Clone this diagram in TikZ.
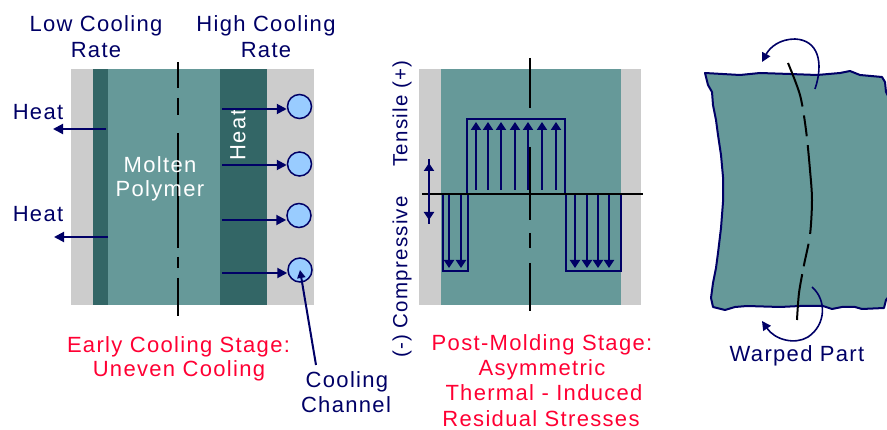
\documentclass[tikz,border=0pt]{standalone}
\usepackage{fontspec}
\setmainfont{Liberation Sans}[LetterSpace=6]
\usetikzlibrary{arrows.meta}
\definecolor{gr}{HTML}{CCCCCC}
\definecolor{tl}{HTML}{669999}
\definecolor{dk}{HTML}{336666}
\definecolor{nv}{HTML}{000066}
\definecolor{lb}{HTML}{99CCFF}
\definecolor{rd}{HTML}{FF0033}
\begin{document}
\begin{tikzpicture}[x=1pt,y=-1pt,
  txt/.style={font=\fontsize{22}{26}\selectfont, text=nv, inner sep=0pt, anchor=base},
  redtxt/.style={txt, text=rd},
  vtxt/.style={font=\fontsize{20.5}{24}\selectfont, text=nv, inner sep=0pt, rotate=90, anchor=center},
  arr/.style={draw=nv, line width=2pt, -{Triangle[length=10pt,width=10pt]}},
  sarr/.style={draw=nv, line width=2pt, -{Triangle[length=8pt,width=10pt]}},
  carr/.style={draw=nv, line width=1.6pt, -{Triangle[length=9pt,width=9pt]}},
  sbox/.style={draw=nv, line width=2pt},
  cline/.style={draw=black, line width=2pt},
  chan/.style={circle, draw=nv, fill=lb, line width=1.5pt, minimum size=24pt, inner sep=0pt}
]
\useasboundingbox (0,0) rectangle (887,430);

% ---------- left panel ----------
\fill[gr] (71,69) rectangle (314,305);
\fill[dk] (93,69) rectangle (108,305);
\fill[tl] (108,69) rectangle (220,305);
\fill[dk] (220,69) rectangle (267,305);
\foreach \a/\b in {62/88, 98/115, 133/248, 257/268, 278/316}
  \draw[cline] (178,\a) -- (178,\b);

\node[txt] (lcr) at (96,32) {Low Cooling};
\node[txt] (lr) at (96,58) {Rate};
\node[txt] (hcr) at (266,32) {High Cooling};
\node[txt] (hr) at (266,58) {Rate};

\node[txt] (heat1) at (38,119.5) {Heat};
\node[txt] (heat2) at (38,222) {Heat};
\coordinate (h1s) at (106,129); \coordinate (h1e) at (53,129);
\coordinate (h2s) at (108,237); \coordinate (h2e) at (54,237);
\draw[arr] (h1s) -- (h1e);
\draw[arr] (h2s) -- (h2e);

\node[txt, text=white] (molten) at (160,172.7) {Molten};
\node[txt, text=white] (polymer) at (160,196.7) {Polymer};
\node[font=\fontsize{22}{26}\selectfont, text=white, inner sep=0pt, rotate=90] (heatv) at (238,135) {Heat};

\node[chan] (c1) at (299.5,106.5) {};
\node[chan] (c2) at (299.5,164) {};
\node[chan] (c3) at (299,215.5) {};
\node[chan] (c4) at (300,270) {};
\coordinate (s1) at (222,109);
\coordinate (s2) at (222,165);
\coordinate (s3) at (222,220);
\coordinate (s4) at (222,273);
\draw[arr] (s1) -- (c1.west |- s1);
\draw[arr] (s2) -- (c2.west |- s2);
\draw[arr] (s3) -- (c3.west |- s3);
\draw[arr] (s4) -- (c4.west |- s4);

\node[txt] (cool) at (347,388) {Cooling};
\node[txt] (chn) at (346,413) {Channel};
\coordinate (lead) at (316,365);
\draw[draw=nv, line width=2pt, -{Triangle[length=8pt,width=8pt]}] (lead) -- (c4.center);

\node[redtxt] (e1) at (178.5,352.5) {Early Cooling Stage:};
\node[redtxt] (e2) at (179,377) {Uneven Cooling};

% ---------- middle panel ----------
\fill[gr] (419,69) rectangle (641,305);
\fill[tl] (441,69) rectangle (621,305);

\draw[sbox] (467,194) rectangle (565,119);
\draw[sbox] (443,194) rectangle (468,271);
\draw[sbox] (566,194) rectangle (621,271);
\foreach \x in {476,488,501,515,528,542,556}
  \draw[sarr] (\x,190) -- (\x,122);
\foreach \x in {449,461,575,587,598,609}
  \draw[sarr] (\x,194) -- (\x,268);

\foreach \a/\b in {58/108, 147/220, 233/248, 263/311}
  \draw[cline] (530,\a) -- (530,\b);
\coordinate (axl) at (422,194); \coordinate (axr) at (643,194);
\draw[cline] (axl) -- (axr);

\coordinate (da) at (429,159); \coordinate (db) at (429,224); \coordinate (dm) at (429,192);
\draw[draw=nv, line width=2pt] (da) -- (db);
\draw[sarr] (dm) -- (429,163);
\draw[sarr] (dm) -- (429,220);

\node[vtxt] (tens) at (402,113.5) {Tensile (+)};
\node[vtxt] (comp) at (402,277) {(-) Compressive};

\node[redtxt] (p1) at (542,350.5) {Post-Molding Stage:};
\node[redtxt] (p2) at (542,375.5) {Asymmetric};
\node[redtxt] (p3) at (544,401) {Thermal - Induced};
\node[redtxt] (p4) at (541,426.5) {Residual Stresses};

% ---------- right panel ----------
\draw[draw=nv, fill=tl, line width=2pt, line join=round]
  (705,73) -- (740,75) -- (760,73) -- (790,74) -- (817,75) -- (840,73) -- (850,71)
  -- (860,75) -- (882,77) -- (885,82) -- (886,92) -- (890,100) -- (890,295)
  -- (886,300) -- (884,308) -- (862,309) -- (855,307) -- (842,307) -- (832,309)
  -- (823,306) -- (800,306) -- (780,307) -- (747,306) -- (735,307) -- (725,310)
  -- (713,307) -- (711,298) -- (713,283) -- (716,268) -- (718,253) -- (721,228)
  -- (723,202) -- (723,177) -- (721,155) -- (718,135) -- (716,120) -- (713,105)
  -- (712,92) -- (708,85) -- cycle;

\draw[black, line width=2pt, dash pattern=on 46pt off 9pt on 21pt off 9pt on 89pt off 10pt on 23pt off 8pt on 60pt]
  plot[smooth] coordinates {(788,63) (800,95) (806,130) (810,170) (812,200) (810,235) (804,265) (799,293) (797,320)};

\coordinate (ta) at (815,89); \coordinate (tb) at (762,62);
\draw[carr] (ta) .. controls (824,62) and (818,40) .. (795,39) .. controls (780,39) and (770,47) .. (tb);
\coordinate (ba) at (812,287); \coordinate (bb) at (762,321);
\draw[carr] (ba) .. controls (827,300) and (826,325) .. (808,337) .. controls (795,345) and (775,340) .. (bb);

\node[txt] (warp) at (797,361.7) {Warped Part};
\end{tikzpicture}
\end{document}
